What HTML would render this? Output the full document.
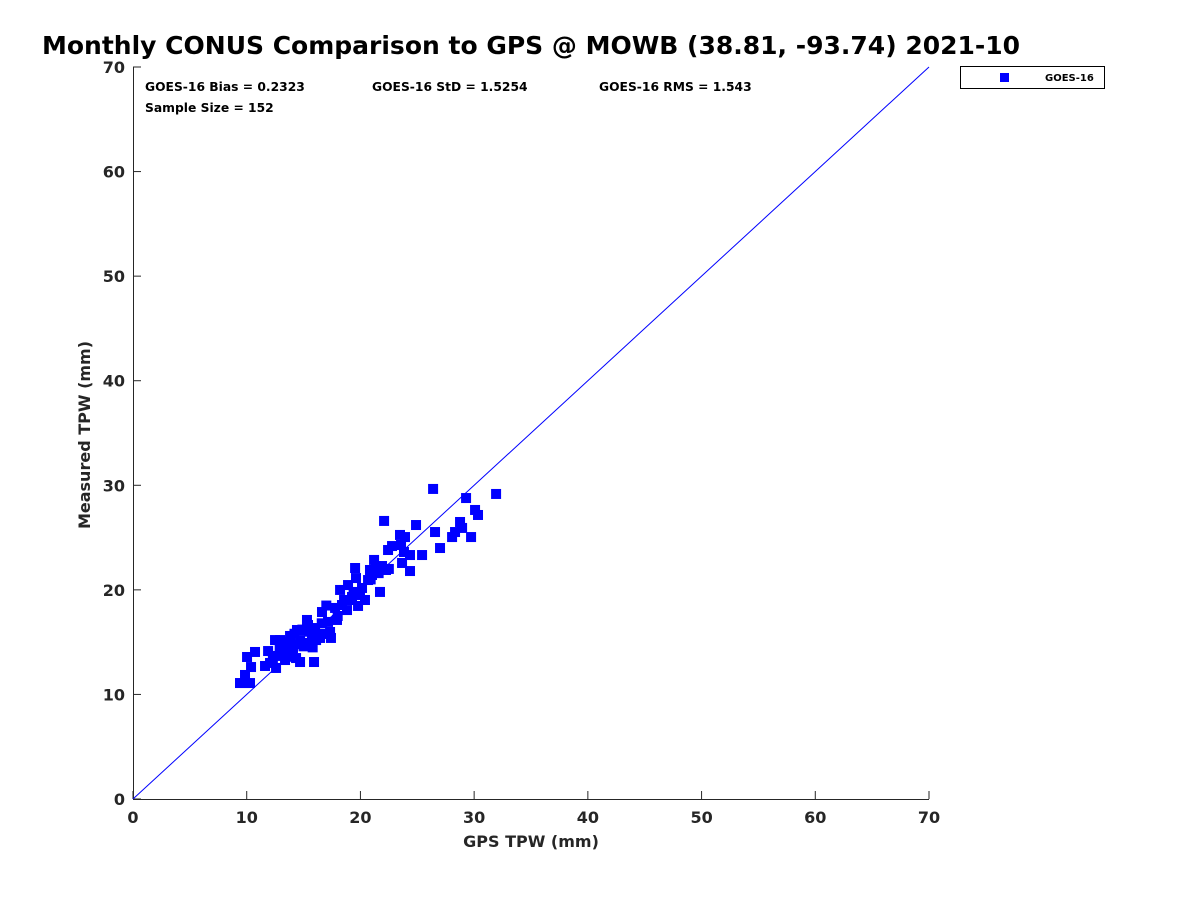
<!DOCTYPE html>
<html><head><meta charset="utf-8"><style>
body{margin:0;background:#fff;font-family:"Liberation Sans","DejaVu Sans",sans-serif}
</style></head><body>
<svg id="c" width="1200" height="900" xmlns="http://www.w3.org/2000/svg" style="font-family:'DejaVu Sans','Liberation Sans',sans-serif">
<rect width="1200" height="900" fill="#fff"/>
<text x="42" y="54" font-size="25" font-weight="bold" fill="#000">Monthly CONUS Comparison to GPS @ MOWB (38.81, -93.74) 2021-10</text>
<text x="145" y="91" font-size="12.3" font-weight="bold">GOES-16 Bias = 0.2323</text>
<text x="372" y="91" font-size="12.3" font-weight="bold">GOES-16 StD = 1.5254</text>
<text x="599" y="91" font-size="12.3" font-weight="bold">GOES-16 RMS = 1.543</text>
<text x="145" y="112" font-size="12.3" font-weight="bold">Sample Size = 152</text>
<g id="axes"></g>
<g id="marks"></g>
<g>
<rect x="960.5" y="66.5" width="144" height="22" fill="#fff" stroke="#000"/>
<rect x="1000" y="73" width="9" height="9" fill="#0000ff"/>
<text x="1045" y="81" font-size="10" font-weight="bold">GOES-16</text>
</g>
<text x="531" y="847" font-size="16" font-weight="bold" text-anchor="middle" fill="#262626">GPS TPW (mm)</text>
<text transform="translate(90,435) rotate(-90)" font-size="16" font-weight="bold" text-anchor="middle" fill="#262626">Measured TPW (mm)</text>
</svg>
<script>
const xTicks=[0,10,20,30,40,50,60,70];
const yTicks=[0,10,20,30,40,50,60,70];
const gpsX=[9.41,9.85,10.29,9.85,10.03,10.38,10.73,11.61,11.88,12.05,12.49,12.58,12.93,12.75,13.19,13.37,13.63,13.81,14.07,14.34,14.69,14.69,14.42,14.86,15.13,15.3,15.57,15.92,15.39,15.74,16.01,16.27,16.45,16.62,16.89,17.15,17.33,17.41,17.77,17.94,18.21,18.38,18.56,18.82,18.91,19.09,19.26,19.53,19.61,19.79,19.96,20.14,20.4,20.67,21.02,20.84,21.2,21.37,21.72,21.9,22.08,22.25,22.43,22.78,23.48,23.57,23.83,23.66,23.92,24.36,24.36,24.89,25.42,26.39,26.56,27.0,28.06,28.32,28.76,28.94,29.29,29.73,30.08,30.34,31.93,13.0,13.5,14.2,14.9,15.5,16.1,15.0,14.4,13.8,12.3,16.6,17.0,18.0,19.4,20.9,21.6,22.5,15.8,14.0,12.9];
const tpwY=[11.09,11.09,11.09,11.86,13.58,12.62,14.06,12.72,14.15,13.01,15.2,12.53,15.2,13.68,14.25,13.29,14.82,15.59,14.44,13.48,13.1,15.2,16.16,16.16,14.92,17.12,14.73,13.1,16.64,15.4,16.35,15.78,15.4,17.88,15.78,16.93,15.97,15.4,18.27,17.12,19.99,18.55,19.03,18.07,20.46,19.03,19.32,22.09,21.13,18.46,19.51,20.18,19.03,20.94,21.42,21.9,22.86,22.28,19.8,22.28,26.59,21.9,23.81,24.19,25.25,24.29,23.62,22.57,25.05,23.33,21.8,26.2,23.33,29.65,25.53,24.0,25.05,25.53,26.49,25.92,28.78,25.05,27.64,27.16,29.17,14.0,15.0,15.8,16.2,16.0,15.2,14.6,14.8,14.0,13.2,16.8,18.5,17.5,19.8,21.0,21.6,22.0,14.5,13.6,14.6];
const X0=133,X1=929,Y0=799,Y1=67;
const sx=v=>X0+(v-0)/(70-0)*(X1-X0);
const sy=v=>Y0-(v-0)/(70-0)*(Y0-Y1);
const NS="http://www.w3.org/2000/svg";
const axes=document.getElementById('axes'),marks=document.getElementById('marks');
function mk(tag,attrs,parent){const e=document.createElementNS(NS,tag);for(const k in attrs)e.setAttribute(k,attrs[k]);parent.appendChild(e);return e;}
const xl=mk('line',{x1:X0,y1:Y0+0.5,x2:X1,y2:Y0+0.5,stroke:'#262626'},axes);


const yl=mk('line',{x1:X0+0.5,y1:Y1,x2:X0+0.5,y2:Y0,stroke:'#262626'},axes);


xTicks.forEach(t=>{
 mk('line',{x1:sx(t),y1:Y0,x2:sx(t),y2:Y0-8,stroke:'#262626'},axes);
 const tx=mk('text',{x:sx(t),y:Y0+24,'font-size':16,'font-weight':'bold','text-anchor':'middle',fill:'#262626'},axes);
 tx.textContent=t;
 
 
});
yTicks.forEach(t=>{
 mk('line',{x1:X0,y1:sy(t),x2:X0+8,y2:sy(t),stroke:'#262626'},axes);
 const tx=mk('text',{x:X0-8,y:sy(t)+6,'font-size':16,'font-weight':'bold','text-anchor':'end',fill:'#262626'},axes);
 tx.textContent=t;
 
 
});
const ref=mk('line',{x1:sx(0),y1:sy(0),x2:sx(70),y2:sy(70),stroke:'#0000ff','stroke-width':1},marks);


gpsX.forEach((x,i)=>{
 const r=mk('rect',{x:sx(x)-5,y:sy(tpwY[i])-5,width:10,height:10,fill:'#0000ff'},marks);
 
 
});
</script>
</body></html>
